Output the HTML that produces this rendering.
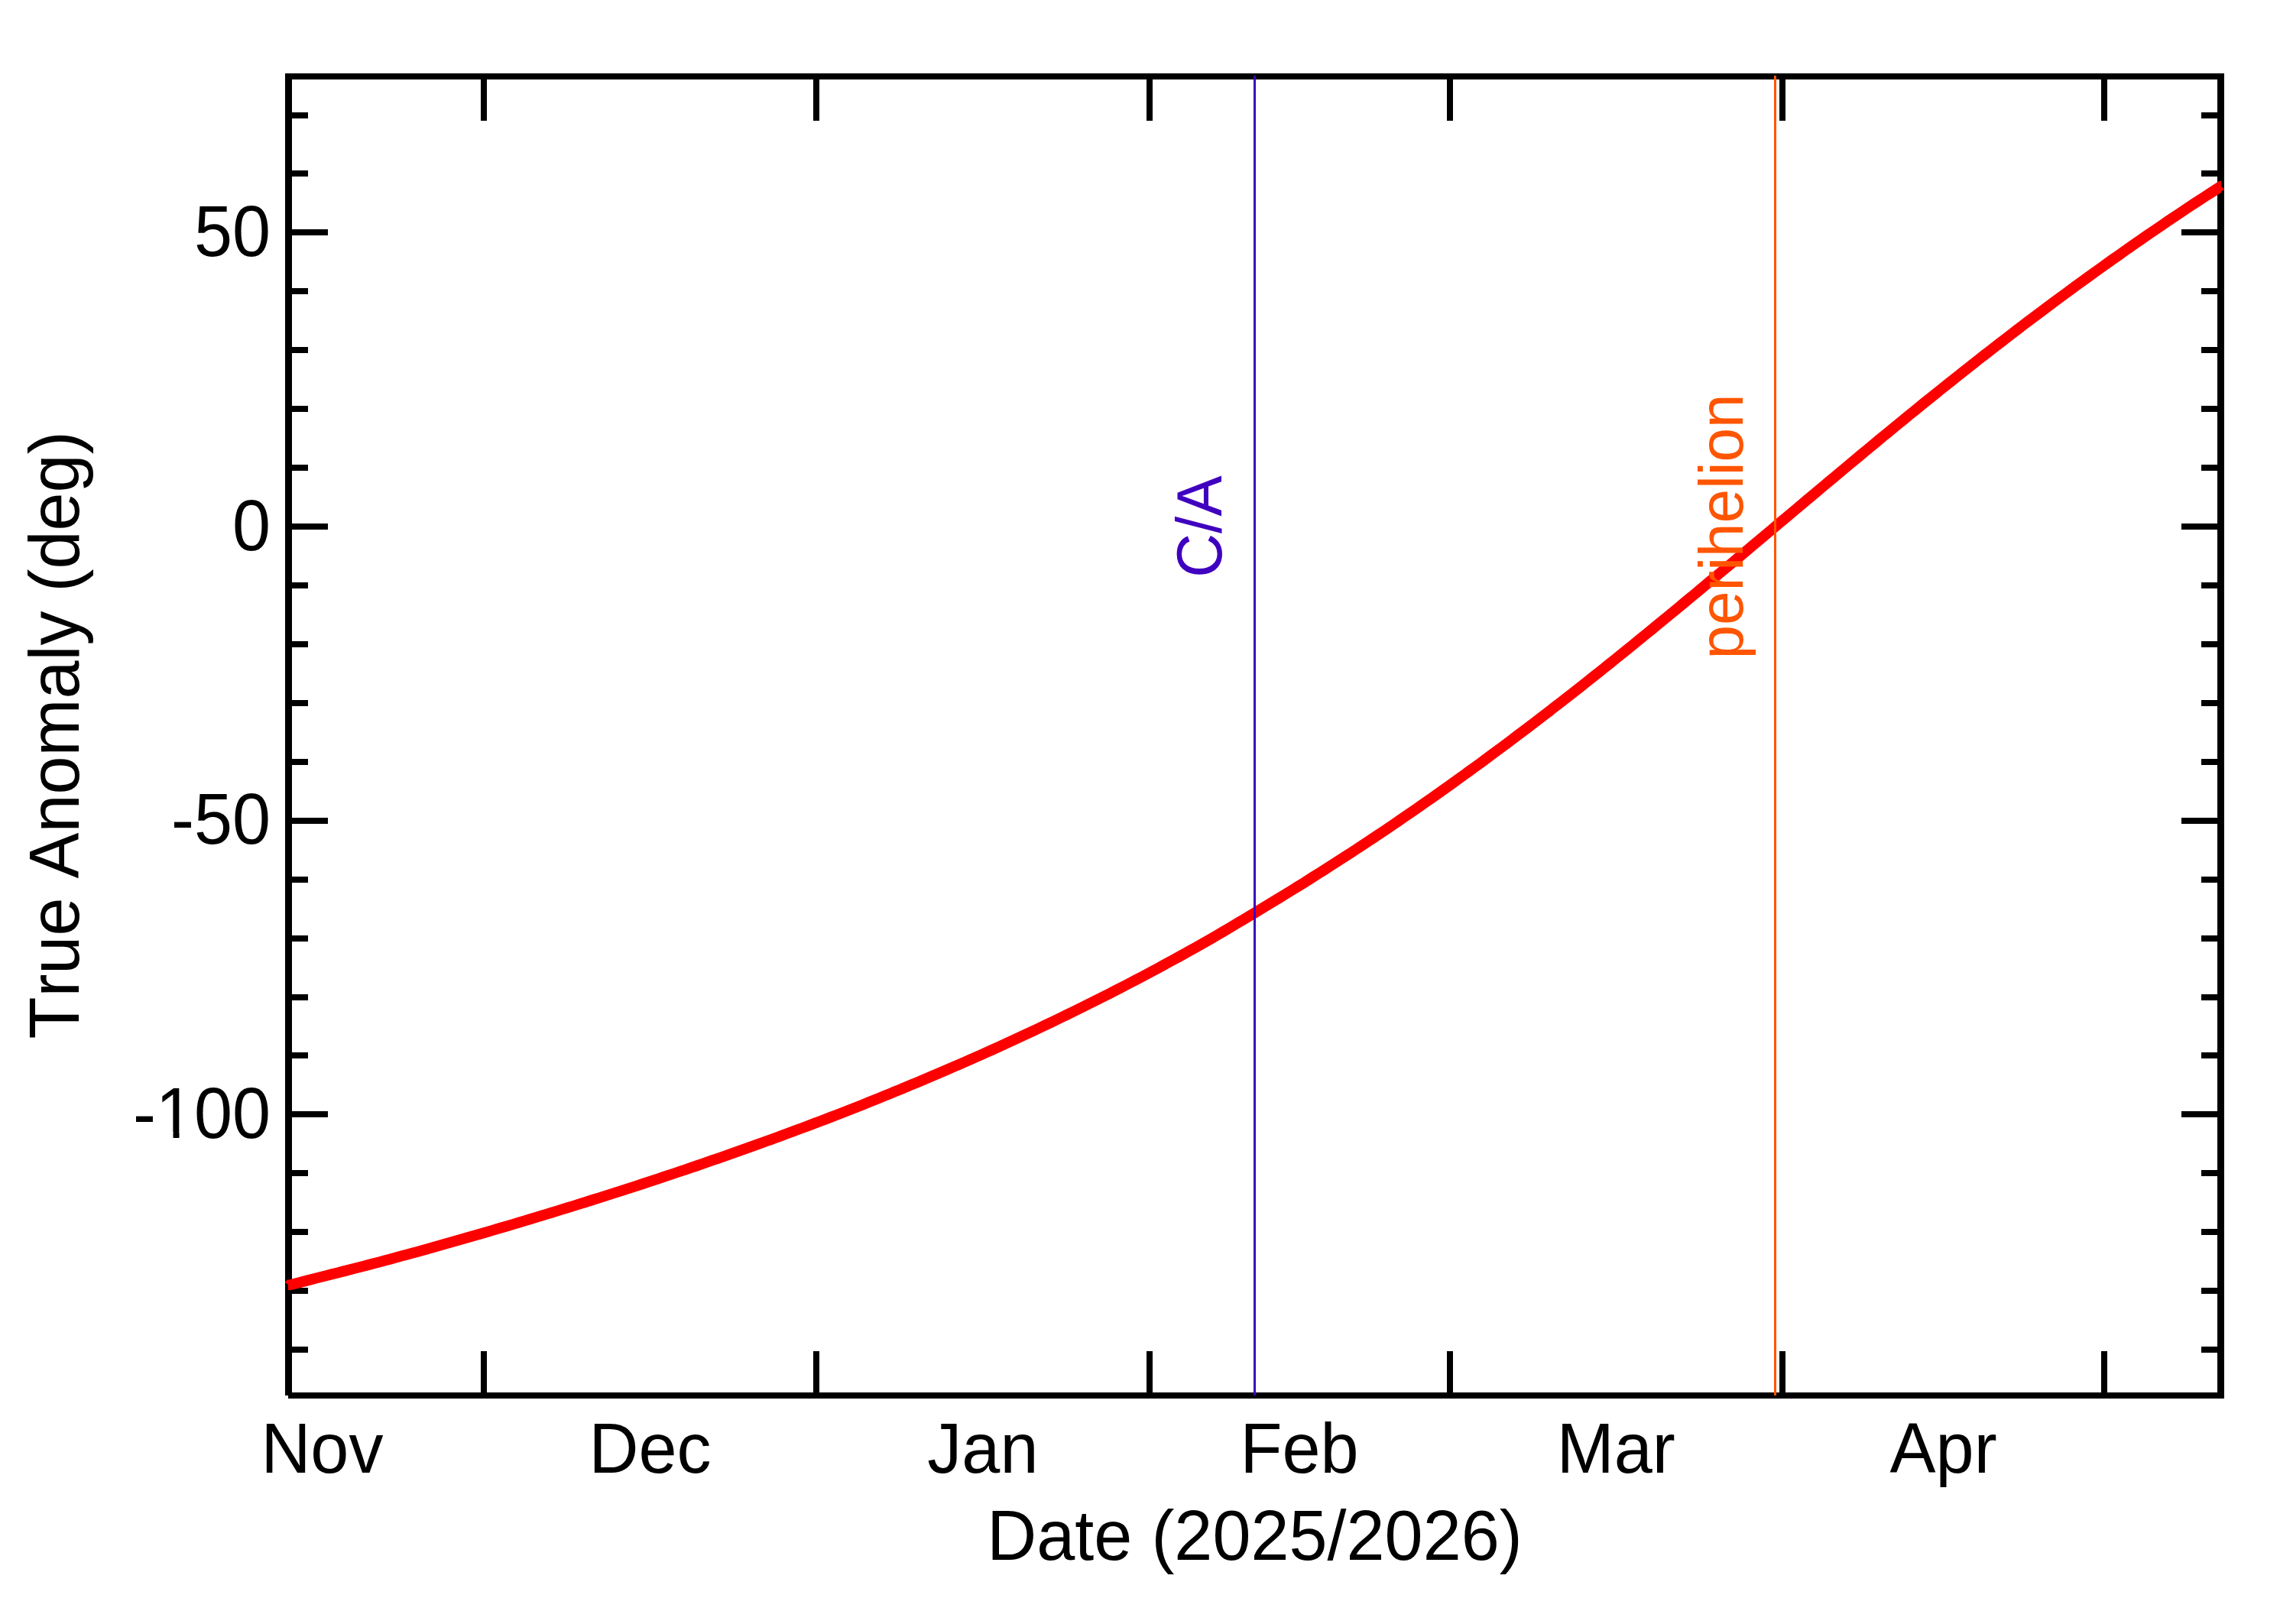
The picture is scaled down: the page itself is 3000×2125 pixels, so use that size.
<!DOCTYPE html>
<html lang="en"><head><meta charset="utf-8"><title>True Anomaly</title>
<style>html,body{margin:0;padding:0;background:#fff}body{width:3000px;height:2125px;overflow:hidden}svg{display:block}text{font-family:"Liberation Sans",Arial,Helvetica,sans-serif;font-kerning:none;font-variant-ligatures:none}</style></head><body>
<svg width="3000" height="2125" viewBox="0 0 3000 2125">
<rect x="0" y="0" width="3000" height="2125" fill="#ffffff"/>
<g fill="#000000" shape-rendering="crispEdges">
<rect x="373" y="96" width="9" height="1730"/>
<rect x="2901" y="96" width="9" height="1734"/>
<rect x="373" y="96" width="2537" height="8"/>
<rect x="377" y="1822" width="2533" height="8"/>
<rect x="629" y="104" width="8" height="54"/>
<rect x="629" y="1768" width="8" height="54"/>
<rect x="1064" y="104" width="8" height="54"/>
<rect x="1064" y="1768" width="8" height="54"/>
<rect x="1500" y="104" width="8" height="54"/>
<rect x="1500" y="1768" width="8" height="54"/>
<rect x="1893" y="104" width="8" height="54"/>
<rect x="1893" y="1768" width="8" height="54"/>
<rect x="2328" y="104" width="8" height="54"/>
<rect x="2328" y="1768" width="8" height="54"/>
<rect x="2749" y="104" width="8" height="54"/>
<rect x="2749" y="1768" width="8" height="54"/>
<rect x="382" y="147" width="21" height="8"/>
<rect x="2880" y="147" width="21" height="8"/>
<rect x="382" y="223" width="21" height="8"/>
<rect x="2880" y="223" width="21" height="8"/>
<rect x="382" y="300" width="47" height="8"/>
<rect x="2854" y="300" width="47" height="8"/>
<rect x="382" y="377" width="21" height="8"/>
<rect x="2880" y="377" width="21" height="8"/>
<rect x="382" y="454" width="21" height="8"/>
<rect x="2880" y="454" width="21" height="8"/>
<rect x="382" y="531" width="21" height="8"/>
<rect x="2880" y="531" width="21" height="8"/>
<rect x="382" y="608" width="21" height="8"/>
<rect x="2880" y="608" width="21" height="8"/>
<rect x="382" y="685" width="47" height="8"/>
<rect x="2854" y="685" width="47" height="8"/>
<rect x="382" y="762" width="21" height="8"/>
<rect x="2880" y="762" width="21" height="8"/>
<rect x="382" y="839" width="21" height="8"/>
<rect x="2880" y="839" width="21" height="8"/>
<rect x="382" y="916" width="21" height="8"/>
<rect x="2880" y="916" width="21" height="8"/>
<rect x="382" y="993" width="21" height="8"/>
<rect x="2880" y="993" width="21" height="8"/>
<rect x="382" y="1070" width="47" height="8"/>
<rect x="2854" y="1070" width="47" height="8"/>
<rect x="382" y="1147" width="21" height="8"/>
<rect x="2880" y="1147" width="21" height="8"/>
<rect x="382" y="1224" width="21" height="8"/>
<rect x="2880" y="1224" width="21" height="8"/>
<rect x="382" y="1301" width="21" height="8"/>
<rect x="2880" y="1301" width="21" height="8"/>
<rect x="382" y="1377" width="21" height="8"/>
<rect x="2880" y="1377" width="21" height="8"/>
<rect x="382" y="1454" width="47" height="8"/>
<rect x="2854" y="1454" width="47" height="8"/>
<rect x="382" y="1531" width="21" height="8"/>
<rect x="2880" y="1531" width="21" height="8"/>
<rect x="382" y="1608" width="21" height="8"/>
<rect x="2880" y="1608" width="21" height="8"/>
<rect x="382" y="1685" width="21" height="8"/>
<rect x="2880" y="1685" width="21" height="8"/>
<rect x="382" y="1762" width="21" height="8"/>
<rect x="2880" y="1762" width="21" height="8"/>
</g>
<defs><clipPath id="cc"><rect x="377" y="236.9" width="2529" height="1451.2"/></clipPath></defs>
<polyline clip-path="url(#cc)" points="363.5,1685.4 370.5,1683.6 377.5,1681.8 384.5,1680.0 391.5,1678.2 398.6,1676.4 405.6,1674.6 412.6,1672.8 419.6,1671.0 426.7,1669.2 433.7,1667.4 440.7,1665.7 447.7,1663.9 454.7,1662.1 461.8,1660.3 468.8,1658.5 475.8,1656.7 482.8,1654.9 489.9,1653.0 496.9,1651.2 503.9,1649.3 510.9,1647.4 517.9,1645.5 525.0,1643.6 532.0,1641.7 539.0,1639.8 546.0,1637.9 553.0,1635.9 560.1,1634.0 567.1,1632.0 574.1,1630.1 581.1,1628.1 588.2,1626.1 595.2,1624.1 602.2,1622.1 609.2,1620.1 616.2,1618.1 623.3,1616.1 630.3,1614.0 637.3,1612.0 644.3,1609.9 651.4,1607.8 658.4,1605.7 665.4,1603.7 672.4,1601.6 679.4,1599.5 686.5,1597.4 693.5,1595.2 700.5,1593.1 707.5,1591.0 714.6,1588.9 721.6,1586.7 728.6,1584.6 735.6,1582.4 742.6,1580.3 749.7,1578.1 756.7,1575.9 763.7,1573.7 770.7,1571.5 777.8,1569.3 784.8,1567.1 791.8,1564.8 798.8,1562.6 805.8,1560.4 812.9,1558.1 819.9,1555.8 826.9,1553.6 833.9,1551.3 841.0,1549.0 848.0,1546.7 855.0,1544.4 862.0,1542.1 869.0,1539.7 876.1,1537.4 883.1,1535.0 890.1,1532.7 897.1,1530.3 904.1,1527.9 911.2,1525.5 918.2,1523.1 925.2,1520.7 932.2,1518.2 939.3,1515.8 946.3,1513.4 953.3,1510.9 960.3,1508.4 967.3,1505.9 974.4,1503.4 981.4,1500.9 988.4,1498.4 995.4,1495.9 1002.5,1493.3 1009.5,1490.8 1016.5,1488.2 1023.5,1485.6 1030.5,1483.0 1037.6,1480.4 1044.6,1477.8 1051.6,1475.2 1058.6,1472.6 1065.7,1469.9 1072.7,1467.2 1079.7,1464.6 1086.7,1461.9 1093.7,1459.2 1100.8,1456.4 1107.8,1453.7 1114.8,1450.9 1121.8,1448.2 1128.9,1445.4 1135.9,1442.6 1142.9,1439.7 1149.9,1436.9 1156.9,1434.1 1164.0,1431.2 1171.0,1428.3 1178.0,1425.5 1185.0,1422.5 1192.1,1419.6 1199.1,1416.7 1206.1,1413.7 1213.1,1410.8 1220.1,1407.8 1227.2,1404.8 1234.2,1401.8 1241.2,1398.8 1248.2,1395.7 1255.2,1392.7 1262.3,1389.6 1269.3,1386.5 1276.3,1383.4 1283.3,1380.3 1290.4,1377.1 1297.4,1374.0 1304.4,1370.8 1311.4,1367.6 1318.4,1364.4 1325.5,1361.2 1332.5,1357.9 1339.5,1354.7 1346.5,1351.4 1353.6,1348.1 1360.6,1344.7 1367.6,1341.4 1374.6,1338.1 1381.6,1334.7 1388.7,1331.3 1395.7,1327.9 1402.7,1324.4 1409.7,1321.0 1416.8,1317.5 1423.8,1314.0 1430.8,1310.5 1437.8,1307.0 1444.8,1303.5 1451.9,1299.9 1458.9,1296.3 1465.9,1292.7 1472.9,1289.1 1480.0,1285.4 1487.0,1281.8 1494.0,1278.1 1501.0,1274.4 1508.0,1270.6 1515.1,1266.8 1522.1,1263.0 1529.1,1259.2 1536.1,1255.4 1543.2,1251.5 1550.2,1247.6 1557.2,1243.7 1564.2,1239.8 1571.2,1235.8 1578.3,1231.8 1585.3,1227.8 1592.3,1223.7 1599.3,1219.6 1606.4,1215.4 1613.4,1211.3 1620.4,1207.1 1627.4,1202.9 1634.4,1198.7 1641.5,1194.4 1648.5,1190.2 1655.5,1186.0 1662.5,1181.8 1669.5,1177.5 1676.6,1173.2 1683.6,1168.9 1690.6,1164.6 1697.6,1160.2 1704.7,1155.9 1711.7,1151.5 1718.7,1147.0 1725.7,1142.6 1732.7,1138.2 1739.8,1133.7 1746.8,1129.2 1753.8,1124.7 1760.8,1120.1 1767.9,1115.6 1774.9,1111.0 1781.9,1106.4 1788.9,1101.7 1795.9,1097.1 1803.0,1092.4 1810.0,1087.7 1817.0,1082.9 1824.0,1078.2 1831.1,1073.4 1838.1,1068.6 1845.1,1063.7 1852.1,1058.9 1859.1,1054.0 1866.2,1049.1 1873.2,1044.2 1880.2,1039.2 1887.2,1034.2 1894.3,1029.2 1901.3,1024.2 1908.3,1019.1 1915.3,1014.1 1922.3,1009.0 1929.4,1003.9 1936.4,998.8 1943.4,993.6 1950.4,988.4 1957.5,983.2 1964.5,978.0 1971.5,972.8 1978.5,967.5 1985.5,962.2 1992.6,956.9 1999.6,951.6 2006.6,946.2 2013.6,940.9 2020.6,935.5 2027.7,930.1 2034.7,924.6 2041.7,919.2 2048.7,913.7 2055.8,908.2 2062.8,902.7 2069.8,897.2 2076.8,891.6 2083.8,886.0 2090.9,880.5 2097.9,874.9 2104.9,869.2 2111.9,863.6 2119.0,857.9 2126.0,852.3 2133.0,846.6 2140.0,840.9 2147.0,835.1 2154.1,829.4 2161.1,823.7 2168.1,817.9 2175.1,812.1 2182.2,806.4 2189.2,800.6 2196.2,794.8 2203.2,789.0 2210.2,783.1 2217.3,777.3 2224.3,771.5 2231.3,765.6 2238.3,759.7 2245.4,753.9 2252.4,748.0 2259.4,742.1 2266.4,736.3 2273.4,730.4 2280.5,724.5 2287.5,718.6 2294.5,712.7 2301.5,706.8 2308.6,700.9 2315.6,695.0 2322.6,689.1 2329.6,683.2 2336.6,677.3 2343.7,671.4 2350.7,665.5 2357.7,659.6 2364.7,653.7 2371.7,647.8 2378.8,641.9 2385.8,636.0 2392.8,630.1 2399.8,624.3 2406.9,618.4 2413.9,612.5 2420.9,606.7 2427.9,600.8 2434.9,595.0 2442.0,589.2 2449.0,583.3 2456.0,577.5 2463.0,571.7 2470.1,566.0 2477.1,560.2 2484.1,554.4 2491.1,548.7 2498.1,542.9 2505.2,537.2 2512.2,531.5 2519.2,525.8 2526.2,520.2 2533.3,514.5 2540.3,508.9 2547.3,503.3 2554.3,497.7 2561.3,492.1 2568.4,486.5 2575.4,481.0 2582.4,475.5 2589.4,469.9 2596.5,464.4 2603.5,459.0 2610.5,453.5 2617.5,448.1 2624.5,442.7 2631.6,437.3 2638.6,431.9 2645.6,426.5 2652.6,421.2 2659.7,415.9 2666.7,410.6 2673.7,405.3 2680.7,400.1 2687.7,394.9 2694.8,389.7 2701.8,384.5 2708.8,379.3 2715.8,374.2 2722.8,369.1 2729.9,364.0 2736.9,358.9 2743.9,353.9 2750.9,348.9 2758.0,343.8 2765.0,338.8 2772.0,333.9 2779.0,328.9 2786.0,324.0 2793.1,319.1 2800.1,314.2 2807.1,309.3 2814.1,304.5 2821.2,299.7 2828.2,294.9 2835.2,290.1 2842.2,285.4 2849.2,280.7 2856.3,276.0 2863.3,271.3 2870.3,266.7 2877.3,262.1 2884.4,257.5 2891.4,253.0 2898.4,248.5 2905.4,244.0 2912.4,239.5 2919.5,235.1" fill="none" stroke="#ff0000" stroke-width="14" stroke-linejoin="round" stroke-linecap="butt"/>
<polygon points="377.2,1673.6 373,1677.5 377.2,1681.6" fill="#ff0000"/>
<polygon points="2905.8,243.2 2910,248 2905.8,250.8" fill="#ff0000"/>
<g shape-rendering="crispEdges">
<rect x="1640" y="99" width="3" height="1727" fill="#4000c0"/>
<rect x="2321" y="99" width="3" height="1727" fill="#ff5500"/>
</g>
<g font-size="80px" text-anchor="middle">
<text transform="translate(1598,689) rotate(-90) scale(1,1.045)" fill="#4000c0">C/A</text>
<text transform="translate(2279.8,689) rotate(-90) scale(1,1.01)" fill="#ff5500">perihelion</text>
</g>
<g font-size="90px" fill="#000000">
<text transform="translate(354,334.9) scale(1,1.055)" text-anchor="end">50</text>
<text transform="translate(354,719.6) scale(1,1.055)" text-anchor="end">0</text>
<text transform="translate(354,1104.2) scale(1,1.055)" text-anchor="end">-50</text>
<text transform="translate(354,1488.9) scale(1,1.055)" text-anchor="end">-100</text>
<g fill="#ffffff"><rect x="208" y="1481" width="18.53" height="11"/><rect x="234.49" y="1481" width="18" height="11"/></g>
<text transform="translate(421.4,1926.6) scale(1,1.04)" text-anchor="middle">Nov</text>
<text transform="translate(850.6,1926.6) scale(1,1.04)" text-anchor="middle">Dec</text>
<text transform="translate(1285.9,1926.6) scale(1,1.04)" text-anchor="middle">Jan</text>
<text transform="translate(1700.1,1926.6) scale(1,1.04)" text-anchor="middle">Feb</text>
<text transform="translate(2114.3,1926.6) scale(1,1.04)" text-anchor="middle">Mar</text>
<text transform="translate(2542.6,1926.6) scale(1,1.04)" text-anchor="middle">Apr</text>
<text transform="translate(1641.5,2041) scale(1,1.035)" text-anchor="middle">Date (2025/2026)</text>
<text transform="translate(103,962) rotate(-90) scale(1,1.03)" text-anchor="middle">True Anomaly (deg)</text>
</g>
</svg></body></html>
